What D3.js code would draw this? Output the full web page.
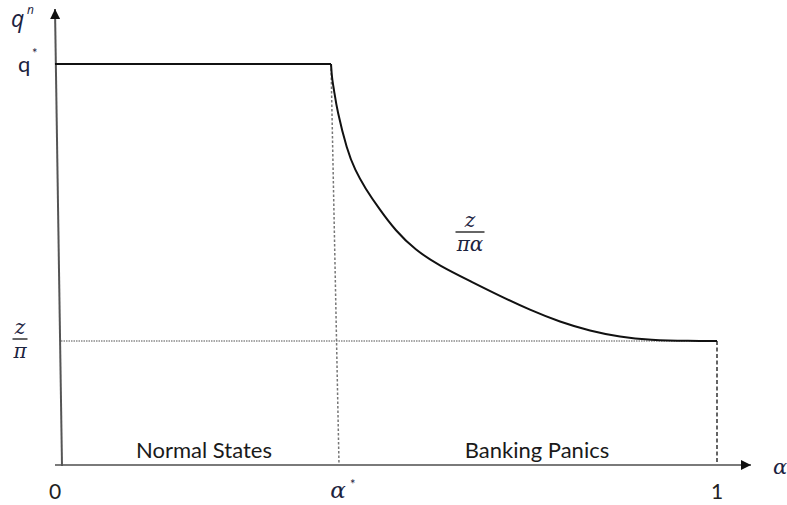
<!DOCTYPE html>
<html><head><meta charset="utf-8">
<script src="https://cdn.jsdelivr.net/npm/d3@7"></script>
<style>html,body{margin:0;padding:0;background:#fff;}</style>
</head><body>
<svg id="c" width="787" height="505"></svg>
<script>
// Data (α on x, q^n on y; z/π normalised to 1)
const alphaStar = 0.4116;
const qStar = 3.234;
const zOverPi = 1;
const flatAlpha = [0, 0.4116];
const curveAlpha = [0.4116, 0.4130, 0.4162, 0.4207, 0.4360, 0.4482, 0.4634, 0.4863, 0.5091, 0.5396, 0.5777, 0.6235, 0.6692, 0.7149, 0.7607, 0.8064, 0.8521, 0.8979, 0.9588, 1.0, 1.0];
const curveQ     = [3.234, 3.120, 3.024, 2.863, 2.540, 2.379, 2.234, 2.056, 1.895, 1.734, 1.605, 1.484, 1.363, 1.250, 1.153, 1.081, 1.032, 1.008, 1.0, 1.0, 1.0];
const xTickLabels = ["0", "α*", "1"];
const regionLabels = ["Normal States", "Banking Panics"];

const svg = d3.select("#c");
const x = d3.scaleLinear().domain([0, 1]).range([61, 717]);
const y = d3.scaleLinear().domain([0, 1]).range([465, 341]);

const defs = svg.append("defs");
defs.append("marker").attr("id","arr").attr("viewBox","0 0 10 10").attr("refX",10).attr("refY",5)
  .attr("markerWidth",12).attr("markerHeight",10).attr("markerUnits","userSpaceOnUse").attr("orient","auto")
  .append("path").attr("d","M0,0L10,5L0,10z").attr("fill","#111");

// dotted horizontal at z/π
svg.append("line").attr("x1", x(0)).attr("x2", x(1)).attr("y1", y(zOverPi)).attr("y2", y(zOverPi))
  .attr("stroke","#8a8a8a").attr("stroke-width",1.3).attr("stroke-dasharray","1.5,1");
// dotted vertical at α*
svg.append("line").attr("x1", x(alphaStar)).attr("y1", y(qStar)).attr("x2", x(alphaStar)+8).attr("y2", y(0))
  .attr("stroke","#777").attr("stroke-width",1.5).attr("stroke-dasharray","2.5,2");
// dashed vertical at 1
svg.append("line").attr("x1", x(1)).attr("y1", y(zOverPi)).attr("x2", x(1)).attr("y2", y(0))
  .attr("stroke","#111").attr("stroke-width",1.3).attr("stroke-dasharray","4,2.5");

// axes
svg.append("line").attr("x1", x(0)-6).attr("y1", y(0)).attr("x2", x(0)+690).attr("y2", y(0))
  .attr("stroke","#7a7a7a").attr("stroke-width",2).attr("marker-end","url(#arr)");
svg.append("line").attr("x1", x(0)+1).attr("y1", y(0)+1).attr("x2", x(0)-6).attr("y2", 9)
  .attr("stroke","#555").attr("stroke-width",2).attr("marker-end","url(#arr)");

// q* flat line
svg.append("line").attr("x1", x(flatAlpha[0])-6).attr("x2", x(flatAlpha[1])).attr("y1", y(qStar)).attr("y2", y(qStar))
  .attr("stroke","#111").attr("stroke-width",2.2);

// curve z/(πα)
const pts = curveAlpha.map((a,i)=>[x(a), y(curveQ[i])]);
svg.append("path").attr("d", d3.line().curve(d3.curveBasis)(pts))
  .attr("fill","none").attr("stroke","#111").attr("stroke-width",2);

const mathFont = "'DejaVu Serif', serif";
const col = "#1c2340";
// q^n
svg.append("text").attr("x", 11).attr("y", 27).attr("font-family","'Open Sans',sans-serif").attr("font-style","italic")
  .attr("font-size",23).attr("fill",col).text("q");
svg.append("text").attr("x", 27).attr("y", 14).attr("font-family","'Open Sans',sans-serif").attr("font-style","italic")
  .attr("font-size",12).attr("fill",col).text("n");
// q*
svg.append("text").attr("x", 18).attr("y", y(qStar)+8).attr("font-family","Lato,sans-serif")
  .attr("font-size",22).attr("fill",col).text("q");
svg.append("text").attr("x", 32).attr("y", y(qStar)-6).attr("font-family","Lato,sans-serif")
  .attr("font-size",13).attr("fill",col).text("*");
// fractions
function frac(cx, cy, top, bot, w) {
  svg.append("text").attr("x", cx).attr("y", cy-5).attr("text-anchor","middle").attr("font-family",mathFont)
    .attr("font-style","italic").attr("font-size",20).attr("fill",col).text(top);
  svg.append("line").attr("x1", cx-w/2).attr("x2", cx+w/2).attr("y1", cy).attr("y2", cy).attr("stroke","#333").attr("stroke-width",1.5);
  svg.append("text").attr("x", cx).attr("y", cy+19).attr("text-anchor","middle").attr("font-family",mathFont)
    .attr("font-style","italic").attr("font-size",20).attr("fill",col).text(bot);
}
frac(20, 339, "z", "π", 15);
frac(470, 232, "z", "πα", 29);

// x tick labels
svg.append("text").attr("x", x(0)-6).attr("y", 499).attr("text-anchor","middle").attr("font-family","Lato,sans-serif")
  .attr("font-size",21).attr("fill","#222").text(xTickLabels[0]);
svg.append("text").attr("x", x(alphaStar)+7).attr("y", 498).attr("text-anchor","middle").attr("font-family",mathFont)
  .attr("font-style","italic").attr("font-size",23).attr("fill",col).text("α");
svg.append("text").attr("x", x(alphaStar)+19).attr("y", 489).attr("font-family","Lato,sans-serif")
  .attr("font-size",13).attr("fill",col).text("*");
svg.append("text").attr("x", x(1)).attr("y", 499).attr("text-anchor","middle").attr("font-family","Lato,sans-serif")
  .attr("font-size",21).attr("fill","#222").text(xTickLabels[2]);
// α axis label
svg.append("text").attr("x", 780).attr("y", 474).attr("text-anchor","middle").attr("font-family",mathFont)
  .attr("font-style","italic").attr("font-size",21).attr("fill",col).text("α");

// region labels
svg.append("text").attr("x", 204).attr("y", 458).attr("text-anchor","middle").attr("font-family","Lato,sans-serif")
  .attr("font-size",22).attr("fill","#1a1a1a").text(regionLabels[0]);
svg.append("text").attr("x", 537).attr("y", 458).attr("text-anchor","middle").attr("font-family","Lato,sans-serif")
  .attr("font-size",22).attr("fill","#1a1a1a").text(regionLabels[1]);
</script>
</body></html>
